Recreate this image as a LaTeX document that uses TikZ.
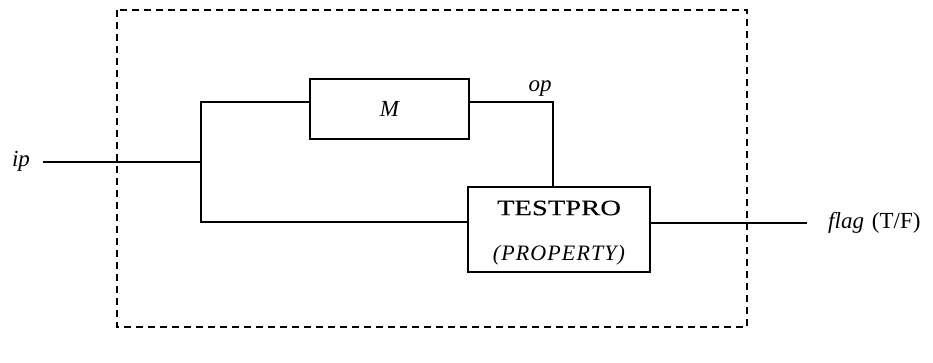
\documentclass[tikz,border=0pt]{standalone}
\usepackage{fontspec}
\setmainfont{Liberation Serif}
\newfontfamily\wideserif[FakeStretch=1.3,FakeBold=0.3]{Liberation Serif}
\begin{document}
\begin{tikzpicture}[x=1pt,y=-1pt,
  blk/.style={draw,line width=1.6pt,inner sep=0pt},
  wire/.style={line width=1.5pt},
  frame/.style={line width=1.3pt,dash pattern=on 7pt off 5pt},
  lbl/.style={font=\fontsize{23}{27}\selectfont\itshape,inner sep=0pt}]
\useasboundingbox (0,0) rectangle (933,363);
% frame
\draw[frame] (117,10) rectangle (747,327);
% blocks
\node[blk,minimum width=159pt,minimum height=60pt] (M) at (389.5,109) {};
\node[lbl] (Mt) at (M.center) {M};
\node[blk,minimum width=182pt,minimum height=85pt] (T) at (559,229.5) {};
\node[font=\fontsize{22}{26}\wideserif,inner sep=0pt] (Tt) at (559,208) {TESTPRO};
\node[font=\fontsize{22}{26}\selectfont\itshape,inner sep=0pt] (Tp) at (559,255) {\addfontfeature{LetterSpace=5}(PROPERTY)};
% coordinates
\coordinate (ipstart) at (43,162);
\coordinate (j1) at (201,162);
\coordinate (jtop) at (201,102);
\coordinate (jbot) at (201,222);
\coordinate (opc) at (553,102);
\coordinate (outy) at (650,223);
\coordinate (outend) at (807,223);
% labels
\node[lbl,anchor=base] (ip) at (21,167) {ip};
\node[lbl,anchor=base] (op) at (540,92) {op};
\node[inner sep=0pt,anchor=base west,font=\fontsize{23}{27}\selectfont] (flag) at (828,229) {\textit{flag}\hspace{8pt}(T/F)};
% wires
\draw[wire] (ipstart) -- (j1);
\draw[wire] (M.west |- jtop) -- (jtop) -- (jbot) -- (T.west |- jbot);
\draw[wire] (M.east |- opc) -- (opc) -- (opc |- T.north);
\draw[wire] (T.east |- outy) -- (outend);
\end{tikzpicture}
\end{document}
